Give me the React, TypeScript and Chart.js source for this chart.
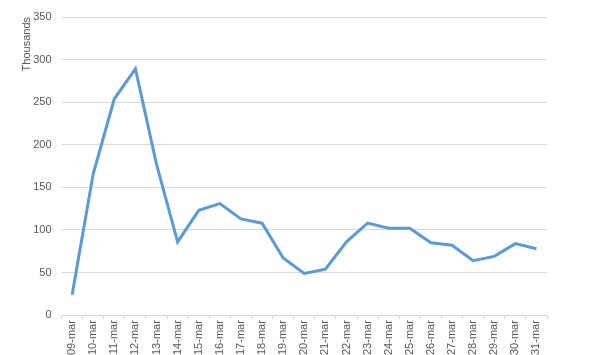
import React, { useEffect, useRef } from "react";
import { Chart, registerables } from "chart.js";

Chart.register(...registerables);

const categories = [
  "09-mar", "10-mar", "11-mar", "12-mar", "13-mar", "14-mar", "15-mar", "16-mar",
  "17-mar", "18-mar", "19-mar", "20-mar", "21-mar", "22-mar", "23-mar", "24-mar",
  "25-mar", "26-mar", "27-mar", "28-mar", "29-mar", "30-mar", "31-mar",
];

const values = [
  24, 166, 254, 289, 177, 86, 123, 131, 113, 108, 67, 49, 54, 86, 108, 102,
  102, 85, 82, 64, 69, 84, 78,
];

const yTitle = "Thousands";

export default function App() {
  const ref = useRef<HTMLCanvasElement | null>(null);

  useEffect(() => {
    if (!ref.current) return;
    const chart = new Chart(ref.current, {
      type: "line",
      data: {
        labels: categories,
        datasets: [
          {
            data: values,
            borderColor: "#5b9bd5",
            borderWidth: 3,
            pointRadius: 0,
            tension: 0,
            fill: false,
          },
        ],
      },
      options: {
        animation: false,
        responsive: false,
        maintainAspectRatio: false,
        layout: { padding: { top: 17, right: 53, left: 10, bottom: -1 } },
        plugins: { legend: { display: false }, tooltip: { enabled: false } },
        scales: {
          x: {
            offset: true,
            grid: {
              offset: true,
              drawOnChartArea: false,
              drawTicks: true,
              tickLength: 4,
              color: "#d9d9d9",
            },
            border: { display: true, color: "#d9d9d9" },
            ticks: {
              minRotation: 90,
              maxRotation: 90,
              autoSkip: false,
              color: "#595959",
              font: { family: "Liberation Sans", size: 11 },
              padding: 1,
            },
          },
          y: {
            min: 0,
            max: 350,
            ticks: {
              stepSize: 50,
              color: "#595959",
              font: { family: "Liberation Sans", size: 11 },
              padding: 10,
            },
            grid: { color: "#d9d9d9", drawTicks: false },
            border: { display: false },
            title: {
              display: true,
              text: yTitle,
              align: "end",
              color: "#595959",
              font: { family: "Liberation Sans", size: 11 },
              padding: { top: 10, bottom: -10 },
            },
          },
        },
      },
    });
    return () => chart.destroy();
  }, []);

  return (
    <div style={{ position: "fixed", left: 0, top: 0, width: 600, height: 355, background: "#fff" }}>
      <canvas ref={ref} width={600} height={355} />
    </div>
  );
}
